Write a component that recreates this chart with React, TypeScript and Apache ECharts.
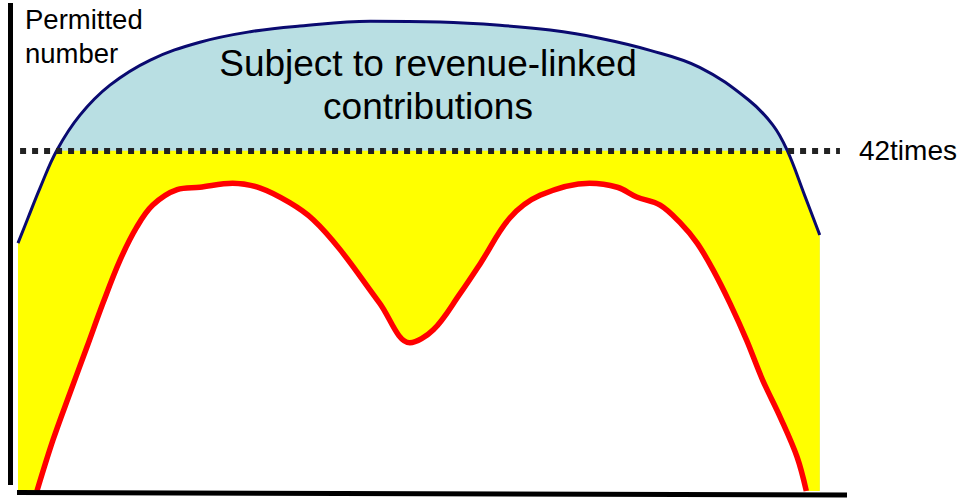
import React, { useEffect, useRef } from "react";
import * as echarts from "echarts";

// x: position along the horizontal axis (0-100), y: permitted number
const permittedCurve: [number, number][] = [
  [0.95, 30.6], [2.14, 33.7], [3.57, 37.4], [5.6, 42.1], [8.33, 46.4],
  [11.9, 50.1], [16.7, 53.2], [22.6, 55.4], [28.6, 56.7], [34.5, 57.4],
  [42.9, 58.0], [51.2, 57.9], [58.3, 57.5], [64.3, 56.9], [70.2, 55.9],
  [76.2, 54.4], [82.1, 52.3], [87.9, 48.3], [90.8, 45.2], [92.5, 42.1],
  [94.6, 36.5], [96.4, 31.6],
];

const actualCurve: [number, number][] = [
  [3.21, 0], [5.12, 6.3], [7.14, 12.1], [9.17, 17.8], [11.07, 23.2],
  [13.1, 28.5], [15.1, 32.6], [17.0, 35.3], [19.9, 37.2], [22.6, 37.5],
  [26.5, 38.0], [29.8, 37.4], [33.3, 35.6], [36.1, 33.5], [39.3, 29.8],
  [44.0, 23.2], [47.6, 18.3], [50.4, 19.9], [53.6, 24.4], [56.0, 28.1],
  [59.5, 33.7], [63.1, 36.5], [69.0, 38.0], [72.3, 37.5], [74.6, 36.3],
  [77.4, 35.3], [79.8, 33.1], [81.8, 30.6], [83.7, 27.3], [85.7, 23.2],
  [87.7, 18.6], [89.6, 13.7], [91.7, 9.1], [93.7, 4.2], [94.8, 0],
];

const THRESHOLD = 42;
const THRESHOLD_LABEL = "42times";
const THRESHOLD_SPAN: [number, number] = [1.2, 98.8];
const Y_LABEL = "Permitted\nnumber";
const AREA_LABEL = "Subject to revenue-linked\ncontributions";

const FONT = '"Liberation Sans", Arial, Helvetica, sans-serif';

export default function App() {
  const ref = useRef<HTMLDivElement>(null);

  useEffect(() => {
    if (!ref.current) return;
    const chart = echarts.init(ref.current, undefined, { renderer: "svg" });
    const capped = permittedCurve.map(([x, y]) => [x, Math.min(y, THRESHOLD)]);

    chart.setOption({
      animation: false,
      backgroundColor: "#ffffff",
      grid: { left: 10, right: 121, top: 5, bottom: 7 },
      xAxis: { type: "value", min: 0, max: 100, show: false },
      yAxis: { type: "value", min: 0, max: 60, show: false },
      series: [
        {
          name: "fill-above",
          type: "line",
          data: permittedCurve,
          smooth: 0.4,
          showSymbol: false,
          lineStyle: { width: 0 },
          areaStyle: { color: "#b9dfe3", opacity: 1 },
          z: 1,
          silent: true,
        },
        {
          name: "within",
          type: "line",
          data: capped,
          smooth: false,
          showSymbol: false,
          lineStyle: { width: 0 },
          areaStyle: { color: "#ffff00", opacity: 1 },
          z: 2,
          silent: true,
          markLine: {
            silent: true,
            symbol: ["none", "none"],
            lineStyle: { color: "#222222", width: 6, type: [6, 6] },
            label: {
              show: true,
              position: "end",
              formatter: THRESHOLD_LABEL,
              fontSize: 28,
              color: "#000",
              fontFamily: FONT,
              distance: 19,
            },
            data: [[
              { coord: [THRESHOLD_SPAN[0], THRESHOLD] },
              { coord: [THRESHOLD_SPAN[1], THRESHOLD] },
            ]],
          },
        },
        {
          name: "actual",
          type: "line",
          data: actualCurve,
          smooth: 0.35,
          showSymbol: false,
          lineStyle: { color: "#ff0000", width: 5.5 },
          areaStyle: { color: "#ffffff", opacity: 1 },
          z: 3,
          silent: true,
        },
        {
          name: "permitted",
          type: "line",
          data: permittedCurve,
          smooth: 0.4,
          showSymbol: false,
          lineStyle: { color: "#0a0a70", width: 3 },
          z: 4,
          silent: true,
        },
      ],
      graphic: [
        {
          type: "line",
          shape: { x1: 10.5, y1: 3, x2: 10.5, y2: 485 },
          style: { stroke: "#000", lineWidth: 5 },
          z: 10,
        },
        {
          type: "line",
          shape: { x1: 17, y1: 492.5, x2: 847, y2: 495 },
          style: { stroke: "#000", lineWidth: 5 },
          z: 10,
        },
        {
          type: "text",
          x: 25,
          y: 2,
          style: {
            text: Y_LABEL,
            fontSize: 27.5,
            lineHeight: 34,
            fontFamily: FONT,
            fill: "#000",
            align: "left",
            verticalAlign: "top",
          },
          z: 10,
        },
        {
          type: "text",
          x: 428,
          y: 42,
          style: {
            text: AREA_LABEL,
            fontSize: 37,
            lineHeight: 43,
            fontFamily: FONT,
            fill: "#000",
            align: "center",
            verticalAlign: "top",
          },
          z: 10,
        },
      ],
    });

    return () => chart.dispose();
  }, []);

  return (
    <div
      ref={ref}
      style={{ position: "absolute", left: 0, top: 0, width: 971, height: 498 }}
    />
  );
}
